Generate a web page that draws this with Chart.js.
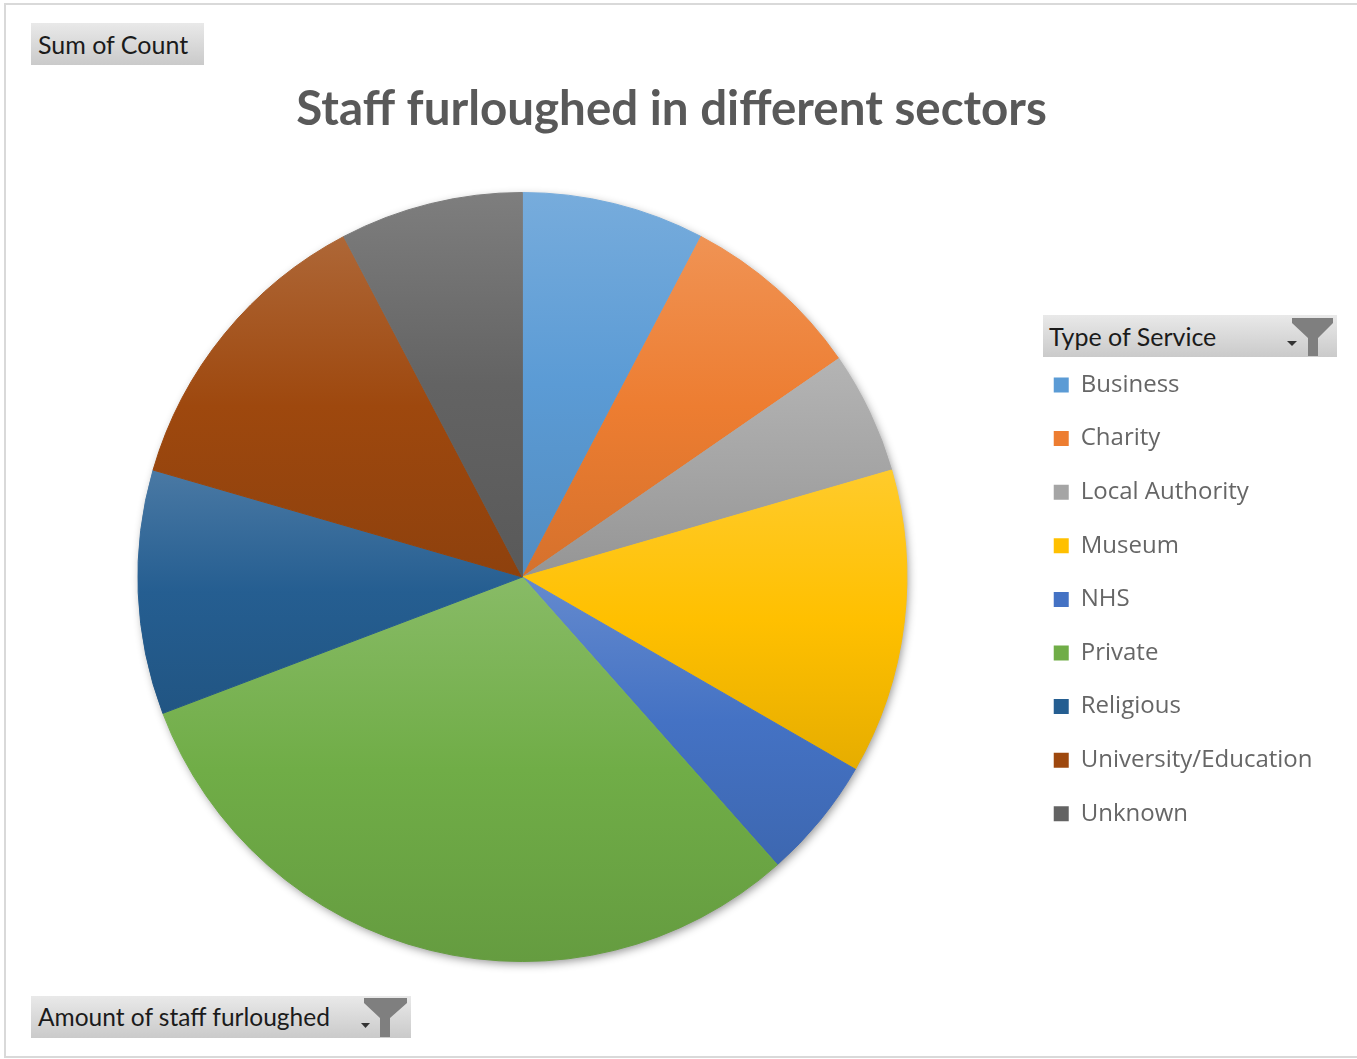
<!DOCTYPE html>
<html lang="en">

<head>
    <meta charset="UTF-8">
    <title>Staff furloughed in different sectors</title>
    <script src="https://cdn.jsdelivr.net/npm/chart.js@4.4.1/dist/chart.umd.min.js"></script>
    <style>
        body {
            margin: 0;
            background-color: #fff;
            overflow: hidden;
        }

        .page {
            position: relative;
            width: 1357px;
            height: 1059px;
        }

        /* light grey frame round the sheet (no right edge, it runs off the picture) */
        .frame {
            position: absolute;
            left: 4px;
            top: 3px;
            width: 1360px;
            height: 1055px;
            box-sizing: border-box;
            border: 2px solid #d9d9d9;
            border-right: none;
        }

        .chart-box {
            position: absolute;
            left: 0;
            top: 0;
            width: 1357px;
            height: 1059px;
        }

        /* pivot field buttons */
        .pivot-btn {
            position: absolute;
            height: 42px;
            box-sizing: border-box;
            padding-left: 7px;
            background: linear-gradient(#e9e9e9, #cacaca);
            font-family: 'Lato', sans-serif;
            font-size: 25px;
            line-height: 42px;
            color: #1b1b1b;
            white-space: nowrap;
        }

        .pivot-btn svg {
            position: absolute;
            left: 0;
            top: 0;
        }
    </style>
</head>

<body>
    <div class="page">
        <div class="frame"></div>
        <div class="chart-box">
            <canvas id="pieChart"></canvas>
        </div>

        <div class="pivot-btn" style="left:31px; top:23px; width:173px;">Sum of Count</div>

        <div class="pivot-btn" style="left:1043px; top:315px; width:294px; padding-left:6px;">Type of Service
            <svg width="294" height="42">
                <polygon points="244,26 254,26 249,31" fill="#333" />
                <polygon points="249,3 290,3 290,8 275,23 275,41 265,41 265,23 249,8" fill="#7f7f7f" />
            </svg>
        </div>

        <div class="pivot-btn" style="left:31px; top:996px; width:380px; font-size:24.5px;">Amount of staff furloughed
            <svg width="380" height="42">
                <polygon points="330,27 339,27 334.5,32" fill="#333" />
                <polygon points="333,2 376,2 376,7 359,22 359,41 349,41 349,22 333,7" fill="#7f7f7f" />
            </svg>
        </div>
    </div>

    <script>
        // Dados do gráfico
        var sectors = ['Business', 'Charity', 'Local Authority', 'Museum', 'NHS', 'Private', 'Religious', 'University/Education', 'Unknown'];
        var staffCounts = [3, 3, 2, 5, 2, 12, 4, 5, 3];
        var sliceColors = ['#5B9BD5', '#ED7D31', '#A5A5A5', '#FFC000', '#4472C4', '#70AD47', '#255E91', '#9E480E', '#636363'];

        // mistura uma cor hex com branco (amt > 0) ou escurece (factor)
        function hexToRgb(hex) {
            var n = parseInt(hex.slice(1), 16);
            return [(n >> 16) & 255, (n >> 8) & 255, n & 255];
        }

        function tint(hex, amt) {
            var c = hexToRgb(hex).map(function (v) { return Math.round(v + (255 - v) * amt); });
            return 'rgb(' + c.join(',') + ')';
        }

        function shade(hex, factor) {
            var c = hexToRgb(hex).map(function (v) { return Math.round(v * factor); });
            return 'rgb(' + c.join(',') + ')';
        }

        // each slice gets its own top-to-bottom gradient, like the Excel style
        function sliceGradient(context) {
            var chart = context.chart;
            var area = chart.chartArea;
            var i = context.dataIndex;
            var base = sliceColors[i];
            if (!area) {
                return base;
            }
            var total = staffCounts.reduce(function (a, b) { return a + b; }, 0);
            var before = 0;
            for (var j = 0; j < i; j++) {
                before += staffCounts[j];
            }
            var start = -Math.PI / 2 + 2 * Math.PI * before / total;
            var end = start + 2 * Math.PI * staffCounts[i] / total;
            var cy = (area.top + area.bottom) / 2;
            var r = Math.min(area.width, area.height) / 2;
            var ys = [cy, cy + r * Math.sin(start), cy + r * Math.sin(end)];
            var top = Math.min.apply(null, ys);
            var bottom = Math.max.apply(null, ys);
            if (start <= -Math.PI / 2 + 1e-9 || end >= 3 * Math.PI / 2 - 1e-9) top = cy - r;
            if (start <= Math.PI / 2 && end >= Math.PI / 2) bottom = cy + r;

            var g = chart.ctx.createLinearGradient(0, top, 0, bottom);
            g.addColorStop(0, tint(base, 0.17));
            g.addColorStop(0.5, base);
            g.addColorStop(1, shade(base, 0.9));
            return g;
        }

        // soft shadow under the whole pie
        var pieShadow = {
            id: 'pieShadow',
            beforeDatasetsDraw: function (chart) {
                var arc = chart.getDatasetMeta(0).data[0];
                if (!arc) return;
                var ctx = chart.ctx;
                ctx.save();
                ctx.shadowColor = 'rgba(0, 0, 0, 0.45)';
                ctx.shadowBlur = 10;
                ctx.shadowOffsetX = 2;
                ctx.shadowOffsetY = 3;
                ctx.beginPath();
                ctx.arc(arc.x, arc.y, arc.outerRadius - 1, 0, Math.PI * 2);
                ctx.fillStyle = '#fff';
                ctx.fill();
                ctx.restore();
            }
        };

        var pieChart = new Chart(document.getElementById('pieChart'), {
            type: 'pie',
            data: {
                labels: sectors,
                datasets: [{
                    data: staffCounts,
                    backgroundColor: sliceGradient,
                    // thin border in the slice's own colour hides the seams
                    borderColor: sliceGradient,
                    borderWidth: 1,
                    hoverOffset: 0
                }]
            },
            options: {
                responsive: true,
                maintainAspectRatio: false,
                animation: false,
                layout: {
                    padding: { top: 60, bottom: 97, left: 20.6, right: 34.5 }
                },
                plugins: {
                    title: {
                        display: true,
                        text: 'Staff furloughed in different sectors',
                        color: '#595959',
                        font: { family: 'Lato', size: 47.5, weight: 'bold' },
                        padding: { top: 21.5, bottom: 53.5 }
                    },
                    legend: {
                        position: 'right',
                        align: 'center',
                        fullSize: false,
                        // empty title only pushes the list down under the field button
                        title: { display: true, text: '', padding: { top: 30.4, bottom: 0 } },
                        labels: {
                            boxWidth: 15,
                            boxHeight: 15,
                            padding: 29.6,
                            color: '#595959',
                            font: { family: 'Open Sans', size: 24 },
                            generateLabels: function (chart) {
                                return sectors.map(function (name, i) {
                                    return {
                                        text: name,
                                        fillStyle: sliceColors[i],
                                        strokeStyle: sliceColors[i],
                                        lineWidth: 0,
                                        hidden: false,
                                        index: i
                                    };
                                });
                            }
                        }
                    },
                    tooltip: { enabled: false }
                }
            },
            plugins: [pieShadow]
        });
    </script>
</body>

</html>
